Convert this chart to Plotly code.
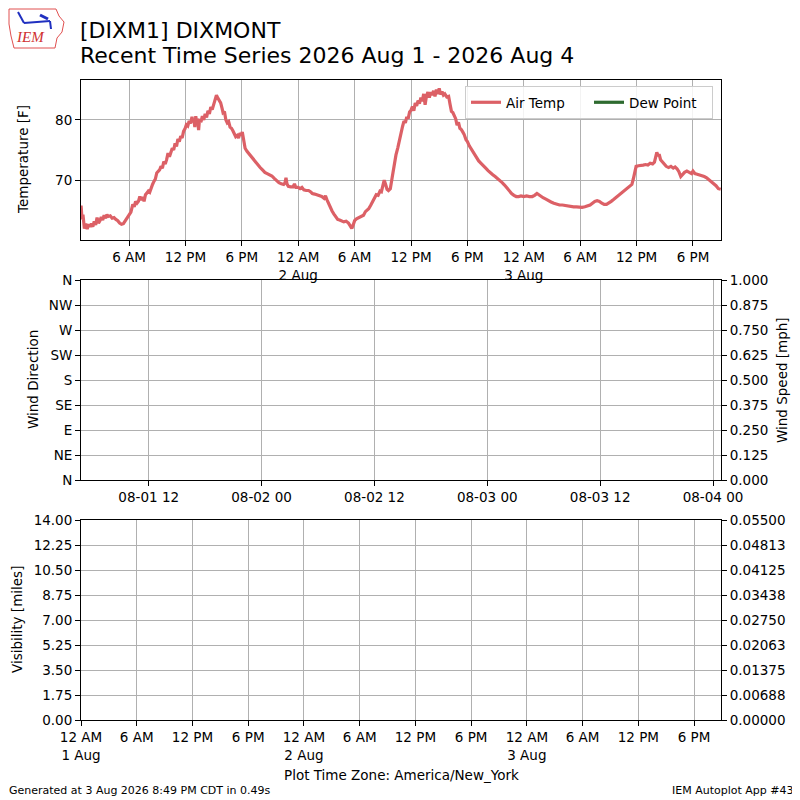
import pandas as pd
import plotly.graph_objects as go

# the page body adds an 8px margin, so the figure is drawn 8px in from the window corner
OFF = 8
W, H = 800 - OFF, 800 - OFF
T0 = pd.Timestamp("2026-08-01 00:00")

# air temp, hours since 1 Aug 00:00 America/New_York and deg F
temp_hours = [
    0.9, 1.0, 1.1, 1.25, 1.4, 1.55, 1.7, 1.85, 2.0, 2.15, 2.3, 2.45, 2.6, 2.75, 2.9,
    3.05, 3.2, 3.35, 3.5, 3.65, 3.8, 4.0, 4.2, 4.4, 4.6, 4.8, 5.0, 5.2, 5.4, 5.6,
    5.8, 6.0, 6.2, 6.4, 6.55, 6.7, 6.85, 7.0, 7.15, 7.3, 7.45, 7.6, 7.75, 7.9, 8.05,
    8.2, 8.35, 8.5, 8.65, 8.8, 8.95, 9.1, 9.25, 9.4, 9.55, 9.7, 9.85, 10.0, 10.15,
    10.3, 10.45, 10.6, 10.75, 10.9, 11.05, 11.2, 11.35, 11.5, 11.65, 11.8, 11.95,
    12.1, 12.25, 12.4, 12.55, 12.7, 12.8, 12.9, 13.0, 13.1, 13.2, 13.3, 13.4, 13.5,
    13.65, 13.8, 13.95, 14.1, 14.25, 14.4, 14.55, 14.7, 14.85, 15.0, 15.15, 15.3,
    15.45, 15.6, 15.75, 15.9, 16.0, 16.15, 16.3, 16.45, 16.6, 16.75, 16.9, 17.05,
    17.2, 17.35, 17.5, 17.65, 17.8, 17.95, 18.05, 18.2, 18.35, 18.55, 18.75, 18.95,
    19.2, 19.45, 19.7, 19.95, 20.2, 20.45, 20.7, 20.95, 21.2, 21.45, 21.7, 21.95,
    22.2, 22.45, 22.6, 22.7, 22.8, 22.95, 23.2, 23.45, 23.6, 23.75, 24.0, 24.2,
    24.4, 24.6, 24.85, 25.1, 25.3, 25.5, 25.75, 26.0, 26.25, 26.5, 26.75, 26.9,
    27.05, 27.2, 27.4, 27.6, 27.8, 28.0, 28.2, 28.4, 28.6, 28.85, 29.1, 29.35,
    29.55, 29.7, 29.85, 30.0, 30.2, 30.45, 30.7, 30.95, 31.15, 31.3, 31.5, 31.7,
    31.9, 32.1, 32.3, 32.5, 32.7, 32.85, 33.0, 33.15, 33.3, 33.45, 33.6, 33.8,
    34.0, 34.2, 34.4, 34.6, 34.8, 34.95, 35.1, 35.25, 35.4, 35.55, 35.7, 35.85,
    36.0, 36.15, 36.3, 36.45, 36.6, 36.75, 36.9, 37.05, 37.2, 37.35, 37.5, 37.65,
    37.8, 37.95, 38.1, 38.25, 38.4, 38.55, 38.7, 38.85, 39.0, 39.15, 39.3, 39.45,
    39.6, 39.8, 40.0, 40.15, 40.3, 40.45, 40.6, 40.75, 40.9, 41.05, 41.2, 41.35,
    41.5, 41.65, 41.85, 42.0, 42.2, 42.4, 42.6, 42.8, 43.0, 43.2, 43.45, 43.7,
    43.95, 44.2, 44.45, 44.7, 44.95, 45.2, 45.45, 45.7, 45.95, 46.2, 46.45, 46.7,
    46.95, 47.2, 47.45, 47.7, 48.0, 48.3, 48.6, 48.9, 49.15, 49.4, 49.6, 49.8,
    50.05, 50.3, 50.6, 50.9, 51.2, 51.5, 51.8, 52.1, 52.4, 52.7, 53.0, 53.3, 53.6,
    53.9, 54.2, 54.5, 54.8, 55.05, 55.3, 55.55, 55.8, 56.05, 56.3, 56.55, 56.8,
    57.05, 57.3, 57.55, 57.8, 58.05, 58.3, 58.55, 58.8, 59.05, 59.3, 59.5, 59.65,
    59.8, 59.95, 60.2, 60.45, 60.7, 60.95, 61.2, 61.45, 61.7, 61.9, 62.05, 62.15,
    62.3, 62.4, 62.55, 62.75, 62.95, 63.15, 63.4, 63.65, 63.9, 64.1, 64.3, 64.5,
    64.7, 64.9, 65.1, 65.35, 65.6, 65.85, 66.0, 66.2, 66.45, 66.7, 66.95, 67.2,
    67.45, 67.7, 67.95, 68.2, 68.45, 68.7, 68.95,
]
temp_f = [
    65.8, 63.5, 64.3, 62.0, 62.8, 61.9, 62.7, 62.3, 62.8, 62.3, 63.2, 62.6, 63.8, 62.9, 63.3,
    63.9, 63.4, 64.2, 63.7, 64.3, 64.0, 64.1, 63.7, 63.8, 63.5, 63.3, 62.9, 62.7, 62.8, 63.3,
    63.8, 64.3, 64.7, 66.0, 65.6, 66.5, 66.2, 66.5, 67.3, 66.7, 67.2, 66.5, 67.6, 67.9, 68.2,
    68.0, 68.9, 69.3, 69.8, 70.2, 71.2, 71.4, 71.7, 72.3, 72.0, 73.1, 72.7, 73.4, 74.5,
    73.9, 74.8, 75.3, 75.0, 76.1, 75.6, 76.8, 76.4, 77.3, 77.0, 78.1, 78.5,
    79.2, 79.0, 79.8, 79.4, 80.5, 79.6, 80.1, 78.8, 80.6, 79.6, 80.2, 78.3, 80.1,
    79.6, 80.6, 80.0, 81.0, 80.4, 81.5, 81.0, 82.1, 81.7, 82.6, 83.4, 84.1,
    83.6, 83.3, 82.8, 81.9, 81.2, 81.4, 80.0, 79.5, 79.7, 78.8, 78.6, 78.2,
    77.6, 77.2, 77.4, 77.0, 77.8, 77.4, 78.0, 76.3, 75.3, 74.8, 74.4, 73.9,
    73.4, 72.9, 72.5, 72.1, 71.7, 71.3, 71.1, 70.9, 70.7, 70.3, 69.9, 69.6,
    69.4, 69.3, 69.6, 70.4, 69.4, 69.0, 68.9, 68.9, 69.4, 68.8, 68.8, 68.6,
    68.8, 68.4, 68.3, 68.3, 68.1, 67.8, 67.7, 67.6, 67.4, 67.3, 67.0, 67.4,
    66.8, 66.2, 65.6, 64.9, 64.4, 64.0, 63.5, 63.4, 63.3, 63.1, 63.2, 62.9,
    62.4, 62.0, 62.6, 63.3, 63.6, 63.8, 63.9, 64.2, 64.8, 65.0, 65.3, 65.8,
    66.4, 67.0, 67.6, 67.5, 68.2, 68.1, 68.9, 70.0, 69.3, 68.5, 68.3, 68.6,
    70.5, 72.8, 74.2, 75.4, 77.0, 77.8, 78.9, 79.8, 79.5, 80.5, 80.2, 81.3,
    81.6, 82.2, 81.5, 82.8, 82.3, 83.2, 82.7, 83.7, 83.1, 84.3, 82.5, 84.0,
    84.6, 83.7, 84.6, 84.1, 84.8, 83.9, 85.0, 84.3, 85.2, 84.2, 84.7, 84.1,
    84.3, 83.8, 83.9, 82.6, 81.4, 81.2, 80.6, 80.2, 79.1, 79.6, 78.6, 78.4,
    78.0, 77.6, 76.7, 76.4, 75.7, 75.2, 74.6, 74.0, 73.7, 73.2, 72.8, 72.3,
    72.0, 71.6, 71.2, 70.9, 70.6, 70.3, 70.0, 69.6, 69.2, 68.7, 68.2, 67.8,
    67.5, 67.3, 67.3, 67.4, 67.3, 67.4, 67.3, 67.3, 67.5, 67.8, 67.6, 67.3,
    67.1, 66.9, 66.6, 66.4, 66.2, 66.0, 65.9, 65.9, 65.8, 65.7, 65.7, 65.6, 65.6,
    65.5, 65.5, 65.6, 65.7, 65.9, 66.2, 66.5, 66.6, 66.5, 66.2, 66.0, 66.0,
    66.2, 66.5, 66.8, 67.1, 67.5, 67.8, 68.1, 68.4, 68.7, 69.0, 69.3, 70.2,
    71.6, 72.3, 72.4, 72.4, 72.5, 72.6, 72.5, 72.8, 72.7, 73.0, 74.0, 74.6,
    74.0, 74.3, 73.4, 73.0, 72.7, 72.3, 72.1, 72.3, 72.0, 72.2, 71.9, 71.4,
    70.6, 71.0, 71.3, 71.5, 71.3, 71.1, 71.5, 71.1, 71.0, 70.9, 70.8, 70.6,
    70.4, 70.1, 69.8, 69.5, 69.1, 68.6, 68.5,
]

# tick labels
local_tick_hours = [0, 6, 12, 18, 24, 30, 36, 42, 48, 54, 60, 66]
local_tick_text = ["12 AM<br>1 Aug", "6 AM", "12 PM", "6 PM", "12 AM<br>2 Aug", "6 AM",
                   "12 PM", "6 PM", "12 AM<br>3 Aug", "6 AM", "12 PM", "6 PM"]
utc_tick_hours = [8, 20, 32, 44, 56, 68]
utc_tick_text = ["08-01 12", "08-02 00", "08-02 12", "08-03 00", "08-03 12", "08-04 00"]
dir_ticks = [0, 45, 90, 135, 180, 225, 270, 315, 360]
dir_text = ["N", "NE", "E", "SE", "S", "SW", "W", "NW", "N"]
speed_ticks = [0, 0.125, 0.25, 0.375, 0.5, 0.625, 0.75, 0.875, 1.0]
vis_ticks = [0, 1.75, 3.5, 5.25, 7.0, 8.75, 10.5, 12.25, 14.0]
ceil_ticks = [0, 0.006875, 0.01375, 0.020625, 0.0275, 0.034375, 0.04125, 0.048125, 0.055]
ceil_text = ["0.00000", "0.00688", "0.01375", "0.02063", "0.02750",
             "0.03438", "0.04125", "0.04813", "0.05500"]

FONT = "DejaVu Sans"
RED = "#dc6066"
GREEN = "#2e6b30"
GRID = "#b0b0b0"


def ts(h):
    return T0 + pd.to_timedelta(h, unit="h")


# window pixel -> paper fraction
def px_x(p):
    return (p - OFF) / W


def px_y(p):
    return 1 - (p - OFF) / H


fig = go.Figure()
fig.add_trace(go.Scatter(x=[ts(h) for h in temp_hours], y=temp_f, mode="lines",
                         name="Air Temp", line=dict(color=RED, width=3.2),
                         xaxis="x", yaxis="y"))
fig.add_trace(go.Scatter(x=[ts(1)], y=[None], mode="lines", name="Dew Point",
                         line=dict(color=GREEN, width=3.2), xaxis="x", yaxis="y"))
# empty panels, just so the axes are drawn
for xa, ya in (("x2", "y2"), ("x2", "y3"), ("x3", "y4"), ("x3", "y5")):
    fig.add_trace(go.Scatter(x=[ts(1)], y=[None], mode="lines", showlegend=False,
                             xaxis=xa, yaxis=ya, hoverinfo="skip"))

xdom = [px_x(81), px_x(721)]
tick_font = dict(family=FONT, size=13.5, color="black")
common = dict(showline=True, linecolor="black", linewidth=1, mirror=True,
              ticks="outside", ticklen=5, tickcolor="black", tickwidth=1,
              showgrid=True, gridcolor=GRID, gridwidth=1, zeroline=False,
              tickfont=tick_font, automargin=False)
nogrid = {**common, "showgrid": False}

fig.update_layout(
    width=W, height=H,
    margin=dict(l=0, r=0, t=0, b=0, autoexpand=False),
    plot_bgcolor="white", paper_bgcolor="white",
    font=dict(family=FONT, color="black"),
    showlegend=True,
    legend=dict(orientation="h", x=px_x(713), xanchor="right", y=px_y(86), yanchor="top",
                bgcolor="rgba(255,255,255,0.85)", bordercolor="#cccccc", borderwidth=1,
                font=dict(family=FONT, size=13.5), entrywidth=78, tracegroupgap=0),
    xaxis=dict(domain=xdom, anchor="y", type="date", range=[ts(0.89), ts(68.98)],
               tickvals=[ts(h) for h in local_tick_hours], ticktext=local_tick_text, **common),
    yaxis=dict(domain=[px_y(240), px_y(80)], anchor="x", range=[60.1, 86.6],
               tickvals=[70, 80], **common),
    xaxis2=dict(domain=xdom, anchor="y2", type="date", range=[ts(0.8), ts(68.85)],
                tickvals=[ts(h) for h in utc_tick_hours], ticktext=utc_tick_text, **common),
    yaxis2=dict(domain=[px_y(480), px_y(280)], anchor="x2", range=[0, 360],
                tickvals=dir_ticks, ticktext=dir_text, **common),
    yaxis3=dict(overlaying="y2", side="right", anchor="x2", range=[0, 1],
                tickvals=speed_ticks, tickformat=".3f", **nogrid),
    xaxis3=dict(domain=xdom, anchor="y4", type="date", range=[ts(0), ts(68.9)],
                tickvals=[ts(h) for h in local_tick_hours], ticktext=local_tick_text, **common),
    yaxis4=dict(domain=[px_y(720), px_y(520)], anchor="x3", range=[0, 14],
                tickvals=vis_ticks, tickformat=".2f", **common),
    yaxis5=dict(overlaying="y4", side="right", anchor="x3", range=[0, 0.055],
                tickvals=ceil_ticks, ticktext=ceil_text, **nogrid),
)


def note(text, x, y, size=13.5, angle=0, color="black", xanchor="center",
         yanchor="middle", family=FONT):
    fig.add_annotation(text=text, x=px_x(x), y=px_y(y), xref="paper", yref="paper",
                       showarrow=False, textangle=angle, xanchor=xanchor, yanchor=yanchor,
                       borderpad=0, font=dict(family=family, size=size, color=color))


note("[DIXM1] DIXMONT", 79, 30, size=22, xanchor="left")
note("Recent Time Series 2026 Aug 1 - 2026 Aug 4", 79, 56, size=22, xanchor="left")
note("Temperature [F]", 23, 160, angle=-90)
note("Wind Direction", 33, 380, angle=-90)
note("Wind Speed [mph]", 782, 380, angle=-90)
note("Visibility [miles]", 17, 620, angle=-90)
note("Overcast Ceiling [k ft]", 800, 628, angle=-90, color="green")
note("Plot Time Zone: America/New_York", 401, 775)
note("Generated at 3 Aug 2026 8:49 PM CDT in 0.49s", 8, 790, size=11, xanchor="left")
note("IEM Autoplot App #43", 795, 790, size=11, xanchor="right")

# rough IEM logo: state outline, station glyph, red letters
fig.add_shape(type="path", xref="paper", yref="paper", line=dict(color="#e05050", width=1),
              path=f"M {px_x(9)},{px_y(9)} L {px_x(56)},{px_y(9)} L {px_x(59)},{px_y(16)} "
                   f"L {px_x(64)},{px_y(22)} L {px_x(62)},{px_y(32)} L {px_x(57)},{px_y(38)} "
                   f"L {px_x(55)},{px_y(48)} L {px_x(14)},{px_y(48)} L {px_x(11)},{px_y(36)} "
                   f"L {px_x(9)},{px_y(24)} Z")
fig.add_shape(type="line", xref="paper", yref="paper", line=dict(color="#2030c0", width=2),
              x0=px_x(24), y0=px_y(23), x1=px_x(50), y1=px_y(21))
fig.add_shape(type="line", xref="paper", yref="paper", line=dict(color="#2030c0", width=2),
              x0=px_x(18), y0=px_y(12), x1=px_x(24), y1=px_y(23))
fig.add_shape(type="line", xref="paper", yref="paper", line=dict(color="#2030c0", width=3),
              x0=px_x(40), y0=px_y(15), x1=px_x(48), y1=px_y(19))
fig.add_shape(type="line", xref="paper", yref="paper", line=dict(color="#2030c0", width=2),
              x0=px_x(50), y0=px_y(21), x1=px_x(51), y1=px_y(29))
note("<i>IEM</i>", 30, 37, size=15, color="#d03030", family="Liberation Serif")

fig.write_html("out.html")
